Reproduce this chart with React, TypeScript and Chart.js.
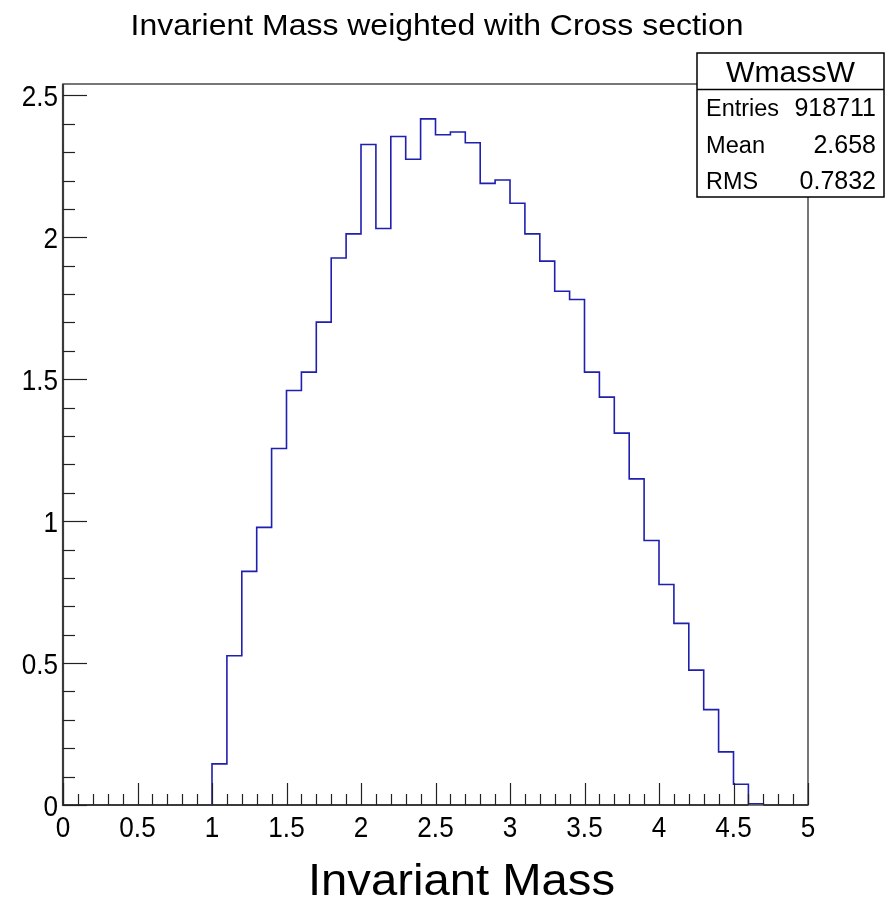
import { useEffect, useRef } from 'react';
import { Chart, registerables } from 'chart.js';

Chart.register(...registerables);

const chartTitle = 'Invarient Mass weighted with Cross section';
const xAxisTitle = 'Invariant Mass';

const binEdges = [
  0.0, 0.1, 0.2, 0.3, 0.4, 0.5, 0.6, 0.7, 0.8, 0.9,
  1.0, 1.1, 1.2, 1.3, 1.4, 1.5, 1.6, 1.7, 1.8, 1.9,
  2.0, 2.1, 2.2, 2.3, 2.4, 2.5, 2.6, 2.7, 2.8, 2.9,
  3.0, 3.1, 3.2, 3.3, 3.4, 3.5, 3.6, 3.7, 3.8, 3.9,
  4.0, 4.1, 4.2, 4.3, 4.4, 4.5, 4.6, 4.7, 4.8, 4.9,
  5.0,
];

const binValues = [
  0, 0, 0, 0, 0, 0, 0, 0, 0, 0,
  0.145, 0.526, 0.823, 0.978, 1.256, 1.46, 1.525, 1.701, 1.927, 2.012,
  2.327, 2.031, 2.355, 2.275, 2.417, 2.361, 2.371, 2.333, 2.19, 2.202,
  2.12, 2.012, 1.916, 1.81, 1.781, 1.525, 1.437, 1.31, 1.149, 0.932,
  0.777, 0.64, 0.475, 0.336, 0.187, 0.073, 0.004, 0, 0, 0,
];

const xMajorTicks = [0, 0.5, 1, 1.5, 2, 2.5, 3, 3.5, 4, 4.5, 5];
const xTickLabels = ['0', '0.5', '1', '1.5', '2', '2.5', '3', '3.5', '4', '4.5', '5'];
const yMajorTicks = [0, 0.5, 1, 1.5, 2, 2.5];
const yTickLabels = ['0', '0.5', '1', '1.5', '2', '2.5'];

const statsName = 'WmassW';
const statsLabels = ['Entries', 'Mean', 'RMS'];
const statsValues = ['918711', '2.658', '0.7832'];

const FONT = '"Liberation Sans", Arial, Helvetica, sans-serif';

function drawText(
  ctx: CanvasRenderingContext2D,
  s: string,
  x: number,
  y: number,
  size: number,
  align: CanvasTextAlign,
  opts: { sx?: number; width?: number } = {}
) {
  ctx.save();
  ctx.font = `${size}px ${FONT}`;
  let sx = opts.sx ?? 1;
  if (opts.width) {
    const w = ctx.measureText(s).width;
    sx = opts.width / w;
  }
  ctx.translate(x, y);
  ctx.scale(sx, 1);
  ctx.textAlign = align;
  ctx.textBaseline = 'alphabetic';
  ctx.fillStyle = '#000';
  ctx.fillText(s, 0, 0);
  ctx.restore();
}

const rootDecor = {
  id: 'rootDecor',
  afterDraw(chart: any) {
    const ctx: CanvasRenderingContext2D = chart.ctx;
    const xs = chart.scales.x;
    const ys = chart.scales.y;
    const { left, right, top, bottom } = chart.chartArea;

    ctx.save();
    // frame
    ctx.strokeStyle = '#555';
    ctx.lineWidth = 1.6;
    ctx.strokeRect(left, top, right - left, bottom - top);
    // axes (darker, cover the zero-level histogram line)
    ctx.strokeStyle = '#3a3a3a';
    ctx.lineWidth = 2.2;
    ctx.beginPath();
    ctx.moveTo(left, top);
    ctx.lineTo(left, bottom);
    ctx.lineTo(xs.getPixelForValue(4.6), bottom);
    ctx.moveTo(xs.getPixelForValue(4.7), bottom);
    ctx.lineTo(right, bottom);
    ctx.stroke();

    // x ticks
    ctx.strokeStyle = '#222';
    ctx.lineWidth = 1.2;
    for (let i = 0; i <= 50; i++) {
      const v = i / 10;
      const px = Math.round(xs.getPixelForValue(v)) + 0.5;
      const len = i % 5 === 0 ? 22 : 11;
      ctx.beginPath();
      ctx.moveTo(px, bottom);
      ctx.lineTo(px, bottom - len);
      ctx.stroke();
    }
    // y ticks
    for (let i = 0; i <= 25; i++) {
      const v = i / 10;
      const py = Math.round(ys.getPixelForValue(v)) + 0.5;
      const len = i % 5 === 0 ? 24 : 12;
      ctx.beginPath();
      ctx.moveTo(left, py);
      ctx.lineTo(left + len, py);
      ctx.stroke();
    }

    // tick labels
    xMajorTicks.forEach((v, i) => {
      drawText(ctx, xTickLabels[i], xs.getPixelForValue(v), 837, 29, 'center', { sx: 0.9 });
    });
    yMajorTicks.forEach((v, i) => {
      drawText(ctx, yTickLabels[i], 58, ys.getPixelForValue(v) + 10.5, 29, 'right', { sx: 0.9 });
    });

    // title
    drawText(ctx, chartTitle, 437, 35, 30, 'center', { width: 613 });
    // x axis title
    drawText(ctx, xAxisTitle, 461.5, 895, 45, 'center', { width: 307 });

    // stats box
    const bx = 697, by = 53, bw = 187, bh = 144;
    ctx.fillStyle = '#fff';
    ctx.fillRect(bx, by, bw, bh);
    ctx.strokeStyle = '#000';
    ctx.lineWidth = 1.5;
    ctx.strokeRect(bx, by, bw, bh);
    ctx.beginPath();
    ctx.moveTo(bx, 89.5);
    ctx.lineTo(bx + bw, 89.5);
    ctx.stroke();
    drawText(ctx, statsName, bx + bw / 2, 82, 29, 'center', { width: 129 });
    const baselines = [116, 153, 189];
    const labelWidths = [73, 59, 52];
    statsLabels.forEach((lab, i) => {
      drawText(ctx, lab, 706, baselines[i], 23.5, 'left', { width: labelWidths[i] });
      drawText(ctx, statsValues[i], 876, baselines[i], 25, 'right');
    });
    ctx.restore();
  },
};

export default function App() {
  const ref = useRef<HTMLCanvasElement | null>(null);

  useEffect(() => {
    document.body.style.margin = '0';
    const canvas = ref.current;
    if (!canvas) return;
    const points = binEdges.map((e, i) => ({
      x: e,
      y: i < binValues.length ? binValues[i] : binValues[binValues.length - 1],
    }));
    const chart = new Chart(canvas, {
      type: 'line',
      data: {
        datasets: [
          {
            data: points,
            stepped: true,
            borderColor: '#1f1fb0',
            borderWidth: 1.6,
            pointRadius: 0,
            fill: false,
          },
        ],
      },
      options: {
        animation: false,
        responsive: false,
        devicePixelRatio: 1,
        layout: { padding: { left: 63, right: 80, top: 84, bottom: 97 } },
        scales: {
          x: { type: 'linear', min: 0, max: 5, display: false },
          y: { type: 'linear', min: 0, max: 2.54, display: false },
        },
        plugins: {
          legend: { display: false },
          tooltip: { enabled: false },
          title: { display: false },
        },
      },
      plugins: [rootDecor],
    });
    return () => chart.destroy();
  }, []);

  return (
    <canvas
      ref={ref}
      width={888}
      height={902}
      style={{ display: 'block', width: 888, height: 902, background: '#fff' }}
    />
  );
}
